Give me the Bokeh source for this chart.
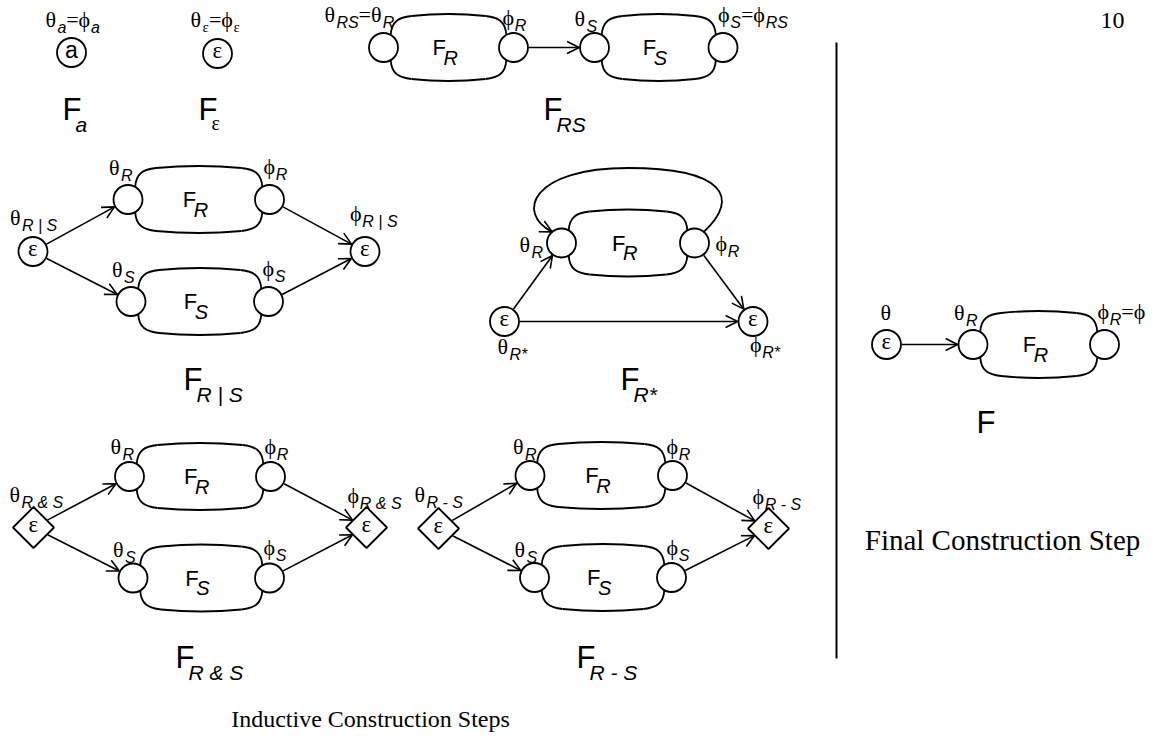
import numpy as np
from bokeh.plotting import figure
from bokeh.models import Range1d, ColumnDataSource, Arrow, OpenHead
from bokeh.embed import file_html
from bokeh.resources import INLINE

SERIF = "Liberation Serif"
SANS = "Liberation Sans"
R_NODE = 14.5
D_HALF = 20.5
LW = 1.8
ALW = 1.6
BASE_FIX = 0.35   # renderer puts the baseline ~0.35em below the anchor

# ---- machines: theta-circle x, phi-circle x, row y, subscript ----
M_ID = ["RS_R", "RS_S", "OR_R", "OR_S", "ST_R", "AND_R", "AND_S", "MIN_R", "MIN_S", "FIN_R"]
M_X0 = [383, 594, 127.5, 130.5, 561, 129, 132.5, 529.5, 534, 972.5]
M_X1 = [513, 722.5, 269, 268, 694, 270, 269, 672, 671, 1104]
M_Y = [47, 47, 199, 301, 242.5, 476, 577.5, 475, 577, 344]
M_SUB = ["R", "S", "R", "S", "R", "R", "S", "R", "S", "R"]

# ---- standalone states ----
S_ID = ["A", "E", "OR_in", "OR_out", "ST_in", "ST_out", "FIN_in", "AND_in", "AND_out", "MIN_in", "MIN_out"]
S_X = [71, 217, 32.5, 364.5, 504, 752.5, 886, 33, 366, 438, 768]
S_Y = [52, 53, 251, 251, 321, 321, 344, 527, 527, 528, 528]
S_SHAPE = ["circle"] * 7 + ["diamond"] * 4
S_TEXT = ["a", "ε", "ε", "ε", "ε", "ε", "ε", "ε", "ε", "ε", "ε"]

# ---- transitions ----
EDGES = [("RS_R.p", "RS_S.t"),
         ("OR_in", "OR_R.t"), ("OR_in", "OR_S.t"), ("OR_R.p", "OR_out"), ("OR_S.p", "OR_out"),
         ("ST_in", "ST_R.t"), ("ST_R.p", "ST_out"), ("ST_in", "ST_out"),
         ("AND_in", "AND_R.t"), ("AND_in", "AND_S.t"), ("AND_R.p", "AND_out"), ("AND_S.p", "AND_out"),
         ("MIN_in", "MIN_R.t"), ("MIN_in", "MIN_S.t"), ("MIN_R.p", "MIN_out"), ("MIN_S.p", "MIN_out"),
         ("FIN_in", "FIN_R.t")]

# ---- big captions: F-left, baseline, subscript ----
BIG_X = [64, 200, 545, 185, 622, 978, 177, 578]
BIG_Y = [120, 120, 120, 390, 390, 433, 668, 668]
BIG_SUB = ["a", "ε", "RS", "R | S", "R*", "", "R & S", "R - S"]

GS = 22   # greek label size
SS = 16   # subscript size


def G(t):
    return (t, SERIF, GS, "normal", 0)


def s(t):
    return (t, SANS, SS, "italic", 6)


EQ = ("=", SERIF, GS, "normal", 0)
ES = ("ε", SERIF, 15, "normal", 5)

# node, dx, dy, pieces
LABELS = [
    ("A", -26, -25, [G("θ"), s("a"), EQ, G("ϕ"), s("a")]),
    ("E", -27, -26, [G("θ"), ES, EQ, G("ϕ"), ES]),
    ("RS_R.t", -59, -25.5, [G("θ"), s("RS"), EQ, G("θ"), s("R")]),
    ("RS_R.p", -11, -22.5, [G("ϕ"), s("R")]),
    ("RS_S.t", -20, -21, [G("θ"), s("S")]),
    ("RS_S.p", -5, -25.5, [G("ϕ"), s("S"), EQ, G("ϕ"), s("RS")]),
    ("OR_in", -23, -26, [G("θ"), s("R | S")]),
    ("OR_R.t", -19, -24, [G("θ"), s("R")]),
    ("OR_R.p", -6, -25, [G("ϕ"), s("R")]),
    ("OR_out", -15, -30, [G("ϕ"), s("R | S")]),
    ("OR_S.t", -19, -24, [G("θ"), s("S")]),
    ("OR_S.p", -6, -25, [G("ϕ"), s("S")]),
    ("ST_R.t", -42, 9.5, [G("θ"), s("R")]),
    ("ST_R.p", 21, 8.5, [G("ϕ"), s("R")]),
    ("ST_in", -7, 33, [G("θ"), s("R*")]),
    ("ST_out", -3, 31, [G("ϕ"), s("R*")]),
    ("FIN_in", -6, -24, [G("θ")]),
    ("FIN_R.t", -19, -24, [G("θ"), s("R")]),
    ("FIN_R.p", -7, -25, [G("ϕ"), s("R"), EQ, G("ϕ")]),
    ("AND_in", -24, -25, [G("θ"), s("R & S")]),
    ("AND_R.t", -19, -22, [G("θ"), s("R")]),
    ("AND_R.p", -6, -22, [G("ϕ"), s("R")]),
    ("AND_out", -19, -24, [G("ϕ"), s("R & S")]),
    ("AND_S.t", -20, -21, [G("θ"), s("S")]),
    ("AND_S.p", -6, -23, [G("ϕ"), s("S")]),
    ("MIN_in", -24, -26, [G("θ"), s("R - S")]),
    ("MIN_R.t", -17, -21, [G("θ"), s("R")]),
    ("MIN_R.p", -6, -21, [G("ϕ"), s("R")]),
    ("MIN_out", -16, -24, [G("ϕ"), s("R - S")]),
    ("MIN_S.t", -20, -20, [G("θ"), s("S")]),
    ("MIN_S.p", -5, -22, [G("ϕ"), s("S")]),
]

WID = {"θ": 0.54, "ϕ": 0.56, "φ": 0.56, "ε": 0.44, "=": 0.56, "R": 0.722, "S": 0.667,
       "a": 0.556, "&": 0.667, "-": 0.333, " ": 0.278, "|": 0.26, "*": 0.389, "F": 0.611}

TITLES = ["Inductive Construction Steps", "Final Construction Step", "10"]
TITLE_X = [370, 1002, 1112]
TITLE_Y = [727, 550, 28]
TITLE_SIZE = [24, 29, 24]

# ------------------------------------------------------------------
W, H = 1150, 736
p = figure(width=W, height=H, x_range=Range1d(0, W), y_range=Range1d(H, 0),
           output_backend="svg", toolbar_location=None, min_border=0,
           x_axis_location=None, y_axis_location=None)
p.grid.visible = False
p.outline_line_color = None
p.background_fill_color = "white"

nodes = {}
for i, mid in enumerate(M_ID):
    nodes[mid + ".t"] = (M_X0[i], M_Y[i], "circle")
    nodes[mid + ".p"] = (M_X1[i], M_Y[i], "circle")
for i, sid in enumerate(S_ID):
    nodes[sid] = (S_X[i], S_Y[i], S_SHAPE[i])

# ---- blobs (bezier outlines joining the two circles) ----
bz = dict(x0=[], y0=[], x1=[], y1=[], cx0=[], cy0=[], cx1=[], cy1=[])


def add_bz(P0, C0, C1, P3):
    bz["x0"].append(P0[0]); bz["y0"].append(P0[1])
    bz["cx0"].append(C0[0]); bz["cy0"].append(C0[1])
    bz["cx1"].append(C1[0]); bz["cy1"].append(C1[1])
    bz["x1"].append(P3[0]); bz["y1"].append(P3[1])


h = 33.5
for x0, x1, y in zip(M_X0, M_X1, M_Y):
    L = (x1 - 28) - (x0 + 28)
    cmid = (8 * h - 2 * (h - 2)) / 6
    for sg in (-1, 1):
        a = (x0 + 7.2, y + sg * 12.6)
        b = (x0 + 28, y + sg * (h - 2))
        c = (x1 - 28, y + sg * (h - 2))
        d = (x1 - 7.2, y + sg * 12.6)
        add_bz(a, (x0 + 8, y + sg * 26), (x0 + 15, y + sg * (h - 3.4)), b)
        add_bz(b, (b[0] + L / 3, y + sg * cmid), (c[0] - L / 3, y + sg * cmid), c)
        add_bz(c, (x1 - 15, y + sg * (h - 3.4)), (x1 - 8, y + sg * 26), d)

# ---- loop of F_R* (phi_R back to theta_R) ----
k = M_ID.index("ST_R")
lx0, lx1, ly = M_X0[k], M_X1[k], M_Y[k]
mid = (lx0 + lx1) / 2
ang = np.deg2rad(50)
P0 = (lx1 + R_NODE * np.cos(ang), ly - R_NODE * np.sin(ang))
top = (mid, ly - 75)
P3 = (lx0 - R_NODE * np.cos(ang), ly - R_NODE * np.sin(ang))
add_bz(P0, (lx1 + 46, ly - 45), (lx1 + 30, ly - 75), top)
C1 = (lx0 - 46, ly - 30)
add_bz(top, (lx0 - 30, ly - 75), C1, P3)

p.bezier(x0="x0", y0="y0", x1="x1", y1="y1", cx0="cx0", cy0="cy0", cx1="cx1", cy1="cy1",
         source=ColumnDataSource(bz), line_color="black", line_width=LW)


# ---- transitions ----
def reach(node, ux, uy):
    shape = nodes[node][2]
    if shape == "circle":
        return R_NODE + 0.9
    return D_HALF / (abs(ux) + abs(uy)) + 0.6


ar = dict(xs=[], ys=[], xe=[], ye=[])
for a, b in EDGES:
    xa, ya, _ = nodes[a]
    xb, yb, _ = nodes[b]
    dx, dy = xb - xa, yb - ya
    n = np.hypot(dx, dy)
    ux, uy = dx / n, dy / n
    ra, rb = reach(a, ux, uy), reach(b, ux, uy)
    ar["xs"].append(xa + ux * ra); ar["ys"].append(ya + uy * ra)
    ar["xe"].append(xb - ux * rb); ar["ye"].append(yb - uy * rb)

p.segment(x0="xs", y0="ys", x1="xe", y1="ye", source=ColumnDataSource(ar),
          line_color="black", line_width=ALW)
p.add_layout(Arrow(end=OpenHead(size=12, line_width=ALW, line_color="black"),
                   x_start="xs", y_start="ys", x_end="xe", y_end="ye",
                   source=ColumnDataSource(ar), line_alpha=0))
tx, ty = P3[0] - C1[0], P3[1] - C1[1]
p.add_layout(Arrow(end=OpenHead(size=12, line_width=ALW, line_color="black"),
                   x_start=P3[0] - 0.1 * tx, y_start=P3[1] - 0.1 * ty,
                   x_end=P3[0], y_end=P3[1], line_alpha=0))

# ---- states ----
cx = [v[0] for v in nodes.values() if v[2] == "circle"]
cy = [v[1] for v in nodes.values() if v[2] == "circle"]
p.circle(x=cx, y=cy, radius=R_NODE, fill_color="white", line_color="black", line_width=LW)
dxs = [v[0] for v in nodes.values() if v[2] == "diamond"]
dys = [v[1] for v in nodes.values() if v[2] == "diamond"]
p.scatter(x=dxs, y=dys, marker="square", angle=np.pi / 4, size=2 * D_HALF / np.sqrt(2),
          fill_color="white", line_color="black", line_width=LW)

# ---- texts ----
T = dict(x=[], y=[], text=[], font=[], size=[], style=[])


def put(x, y, parts):
    for t, fam, sz, sty, ddy in parts:
        T["x"].append(x); T["y"].append(y + ddy - BASE_FIX * sz); T["text"].append(t)
        T["font"].append(fam); T["size"].append(f"{sz}px"); T["style"].append(sty)
        x += sum(WID.get(ch, 0.55) for ch in t) * sz


for node, ddx, ddy, parts in LABELS:
    x, y, _ = nodes[node]
    put(x + ddx, y + ddy, parts)

for i, sid in enumerate(S_ID):
    t = S_TEXT[i]
    if t == "a":
        put(S_X[i] - 6.5, S_Y[i] + 6, [(t, SANS, 23, "normal", 0)])
    else:
        put(S_X[i] - 5, S_Y[i] + 5, [(t, SERIF, 23, "normal", 0)])

for x0, x1, y, sub in zip(M_X0, M_X1, M_Y, M_SUB):
    c = (x0 + x1) / 2
    put(c - 16, y + 8, [("F", SANS, 22, "normal", 0)])
    put(c - 5, y + 17, [(sub, SANS, 20, "italic", 0)])

for bx, by, sub in zip(BIG_X, BIG_Y, BIG_SUB):
    put(bx - 2, by, [("F", SANS, 31, "normal", 0)])
    if sub:
        if sub == "ε":
            put(bx + 11, by + 9, [(sub, SERIF, 20, "normal", 0)])
        else:
            put(bx + 11, by + 11, [(sub, SANS, 21, "italic", 0)])

p.text(x="x", y="y", text="text", text_font="font", text_font_size="size",
       text_font_style="style", text_baseline="alphabetic", text_align="left",
       text_color="black", source=ColumnDataSource(T))

# ---- separator and section titles ----
p.segment(x0=[836], y0=[42], x1=[836], y1=[658], line_color="black", line_width=2)

p.text(x=TITLE_X, y=[ty_ - BASE_FIX * sz for ty_, sz in zip(TITLE_Y, TITLE_SIZE)], text=TITLES,
       text_font_size=[f"{sz}px" for sz in TITLE_SIZE],
       text_font={"value": SERIF}, text_align="center", text_baseline="alphabetic",
       text_color="black")

open("out.html", "w").write(file_html(p, INLINE))
